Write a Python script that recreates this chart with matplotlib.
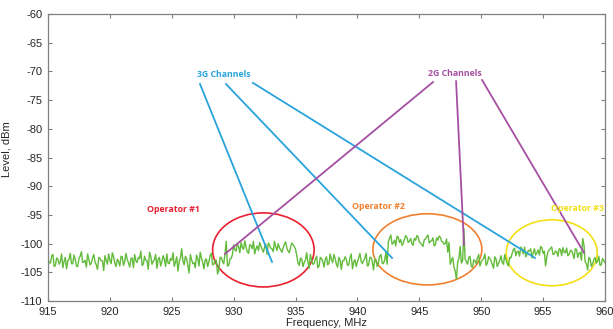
import numpy as np
import matplotlib.pyplot as plt
from matplotlib.patches import Ellipse

# spectrum sweep: samples at 915.0, 915.2, ... and in-between samples at 915.1, 915.3, ...
f_start = 915.0
f_step = 0.2

base_a = [-102.6, -103.4, -101.9, -103.8, -102.7, -103.1, -104.2, -102.4, -103.0, -101.7,
          -103.5, -102.8, -104.0, -102.2, -103.3, -102.9, -101.8, -103.7, -102.5, -103.2,
          -104.5, -102.6, -103.0, -102.1, -103.6, -102.9, -101.6, -103.4, -102.7, -103.9,
          -102.3, -103.1, -102.8, -104.1, -102.5, -101.9, -103.3, -102.6, -103.8, -102.2,
          -103.0, -101.5, -103.6, -102.8, -104.3, -102.4, -103.2, -102.7, -101.8, -103.5,
          -102.9, -104.0, -102.3, -103.1, -100.9, -103.7, -102.6, -105.1, -102.8, -103.3,
          -102.0, -103.9, -102.5, -104.4, -102.7, -103.2, -101.7, -103.6, -102.9, -104.6,
          -102.4, -103.5]
spike_1 = [-99.6, -103.8, -102.6]
op1_block = [-100.2, -101.3, -100.5, -99.8, -101.0, -100.6, -101.7, -100.3, -99.6, -100.9,
             -101.2, -100.4, -101.5, -100.1, -99.9, -100.8, -101.4, -100.5, -100.0, -101.1,
             -100.7, -99.7, -101.3, -100.6, -100.2, -101.0]
base_b = [-103.4, -102.5, -104.0, -102.9, -103.2, -101.9, -103.6, -102.7, -104.2, -102.4,
          -103.1, -102.8, -103.7, -101.8, -103.3, -102.6, -104.1, -102.9, -103.0, -102.3,
          -103.8, -102.5, -104.4, -102.8, -103.2, -101.7, -103.5, -102.6, -103.9, -102.4,
          -103.1, -102.7, -104.0, -102.2, -103.4, -102.9, -103.6]
op2_block = [-99.0, -100.1, -99.4, -98.7, -99.8, -100.3, -99.2, -98.9, -99.6, -100.0,
             -99.1, -98.6, -99.7, -100.2, -99.3, -98.8, -99.9, -99.5, -100.4, -99.0,
             -98.7, -99.6, -100.1, -99.2, -99.8]
base_c = [-102.9, -104.1, -106.2, -102.6, -103.4]
spike_2 = [-97.4]
base_d = [-103.1, -102.4, -104.0, -102.8, -103.5, -101.9, -103.2, -102.6, -103.8, -102.3,
          -103.0, -104.3, -102.7, -103.4, -102.1, -103.6, -102.8, -103.9, -102.5]
op3_block = [-101.0, -102.1, -101.3, -100.6, -101.8, -102.3, -101.2, -100.9, -101.6, -102.0,
             -101.1, -100.5, -101.7, -103.9, -101.4, -100.8, -101.9, -101.3, -102.2, -101.0,
             -100.7, -101.6, -102.1, -101.2, -101.8, -100.9, -102.4, -101.5]
spike_3 = [-99.1]
base_e = [-103.2, -104.6, -102.7, -103.5, -102.4, -103.1, -103.8, -102.6, -103.3]

# in-between samples
mid_a = [-103.3, -102.1, -104.0, -102.5, -103.6, -101.8, -103.1, -104.4, -102.7, -103.5,
         -102.0, -103.9, -102.6, -101.4, -103.2, -104.1, -102.8, -103.4, -101.9, -103.7,
         -102.4, -103.0, -104.7, -102.9, -101.8, -103.5, -102.3, -104.0, -103.1, -102.2,
         -103.8, -101.7, -103.3, -102.6, -104.2, -103.0, -102.4, -101.3, -103.6, -102.9,
         -104.5, -102.2, -103.1, -101.9, -102.7, -103.9, -102.1, -104.0, -103.4, -102.6,
         -101.6, -103.2, -104.8, -102.5, -103.0, -102.2, -103.8, -101.9, -103.5, -104.2,
         -102.6, -101.5, -103.3, -102.8, -104.0, -102.1, -103.7, -102.9, -105.3, -102.4,
         -103.1, -101.8, -103.9, -102.7, -101.9]
mid_op1 = [-101.1, -100.0, -101.6, -100.7, -99.5, -101.4, -100.2, -100.9, -101.8, -100.4,
           -99.8, -101.0, -100.6, -101.9, -100.3, -100.9, -99.6, -101.2, -100.7, -101.5,
           -100.1, -100.8, -101.6, -99.9, -100.5]
mid_b = [-102.1, -103.8, -102.7, -103.3, -101.6, -104.3, -102.9, -103.5, -102.2, -103.9,
         -102.6, -104.1, -102.3, -103.4, -102.8, -101.9, -103.6, -102.4, -104.5, -103.0,
         -102.7, -103.7, -101.8, -103.2, -104.0, -102.5, -103.1, -102.9, -101.7, -103.8,
         -102.4, -104.6, -102.8, -103.3, -101.9, -103.5, -101.5]
mid_op2 = [-99.7, -98.5, -99.9, -100.4, -98.9, -99.3, -100.0, -98.6, -99.8, -99.1,
           -100.3, -99.4, -98.8, -99.9, -100.5, -99.2, -98.5, -99.6, -99.0, -100.2,
           -99.4, -98.9, -99.7, -100.0, -101.5]
mid_c = [-103.6, -102.4, -104.8, -103.2, -100.5, -103.0]
mid_d = [-102.7, -103.6, -102.2, -104.1, -103.0, -102.5, -103.9, -102.8, -101.8, -103.4,
         -102.6, -103.7, -102.3, -104.0, -102.9, -103.3, -101.9, -103.5, -102.4]
mid_op3 = [-101.7, -100.8, -101.4, -102.2, -101.0, -100.6, -101.9, -101.3, -102.5, -100.9,
           -101.6, -102.0, -100.7, -101.3, -102.3, -101.1, -100.6, -101.8, -101.4, -100.9,
           -102.1, -101.5, -100.8, -101.9, -101.2, -102.6, -101.0, -101.7]
mid_e = [-102.9, -100.2, -103.5, -102.4, -104.0, -102.8, -103.4, -102.2, -103.7, -102.9]

level_on = base_a + spike_1 + op1_block + base_b + op2_block + base_c + spike_2 \
    + base_d + op3_block + spike_3 + base_e
level_mid = mid_a + mid_op1 + mid_b + mid_op2 + mid_c + mid_d + mid_op3 + mid_e

f_on = f_start + f_step * np.arange(len(level_on))
f_mid = f_start + f_step / 2 + f_step * np.arange(len(level_mid))
freq = np.concatenate([f_on, f_mid])
level = np.concatenate([level_on, level_mid])
order = np.argsort(freq)
freq, level = freq[order], level[order]

plt.rcParams['font.family'] = ['Liberation Sans', 'DejaVu Sans']
plt.rcParams['axes.unicode_minus'] = False

fig = plt.figure(figsize=(6.13, 3.29), dpi=100)
ax = fig.add_axes([0.0783, 0.0851, 0.9086, 0.8723])

ax.plot(freq, level, color='#62bb3a', lw=1.0)

ax.set_xlim(915, 960)
ax.set_ylim(-110, -60)
ax.set_xticks(np.arange(915, 961, 5))
ax.set_yticks(np.arange(-110, -59, 5))
ax.tick_params(direction='in', top=True, right=True, labelsize=8, length=3,
               color='#808080', labelcolor='#262626', pad=4)
for s in ax.spines.values():
    s.set_color('#808080')
    s.set_linewidth(0.9)
ax.set_xlabel('Frequency, MHz', fontsize=8, color='#262626', labelpad=1)
ax.set_ylabel('Level, dBm', fontsize=8, color='#262626')
ax.yaxis.set_label_coords(-0.066, 0.53)

blue = '#29a3dc'
purple = '#a54fa2'

# annotation lines
blue_lines = [((927.28, -72.2), (933.10, -103.2)),
              ((929.38, -72.2), (942.80, -102.5)),
              ((931.56, -72.0), (954.35, -102.5))]
purple_lines = [((946.11, -71.85), (929.30, -101.8)),
                ((947.97, -71.7), (948.61, -100.2)),
                ((950.07, -71.5), (958.31, -101.6))]
for (x0, y0), (x1, y1) in blue_lines:
    ax.plot([x0, x1], [y0, y1], color=blue, lw=1.3)
for (x0, y0), (x1, y1) in purple_lines:
    ax.plot([x0, x1], [y0, y1], color=purple, lw=1.3)

tfont = dict(family=['Open Sans', 'DejaVu Sans'], fontsize=6.3, fontweight='bold',
             ha='center', va='center')
ax.text(929.2, -70.6, '3G Channels', color=blue, **tfont)
ax.text(947.9, -70.3, '2G Channels', color=purple, **tfont)

ellipses = [(932.4, -101.1, 8.2, 12.9, '#e8202f'),
            (945.65, -101.0, 8.8, 12.4, '#f08030'),
            (955.7, -101.6, 7.35, 11.5, '#f2e014')]
for cx, cy, w, h, c in ellipses:
    ax.add_patch(Ellipse((cx, cy), w, h, fill=False, ec=c, lw=1.2))

ax.text(925.1, -94.1, 'Operator #1', color='#e8202f', **tfont)
ax.text(941.7, -93.6, 'Operator #2', color='#f08030', **tfont)
ax.text(957.8, -93.8, 'Operator #3', color='#f2e014', **tfont)

fig.savefig('out.png', dpi=100)
